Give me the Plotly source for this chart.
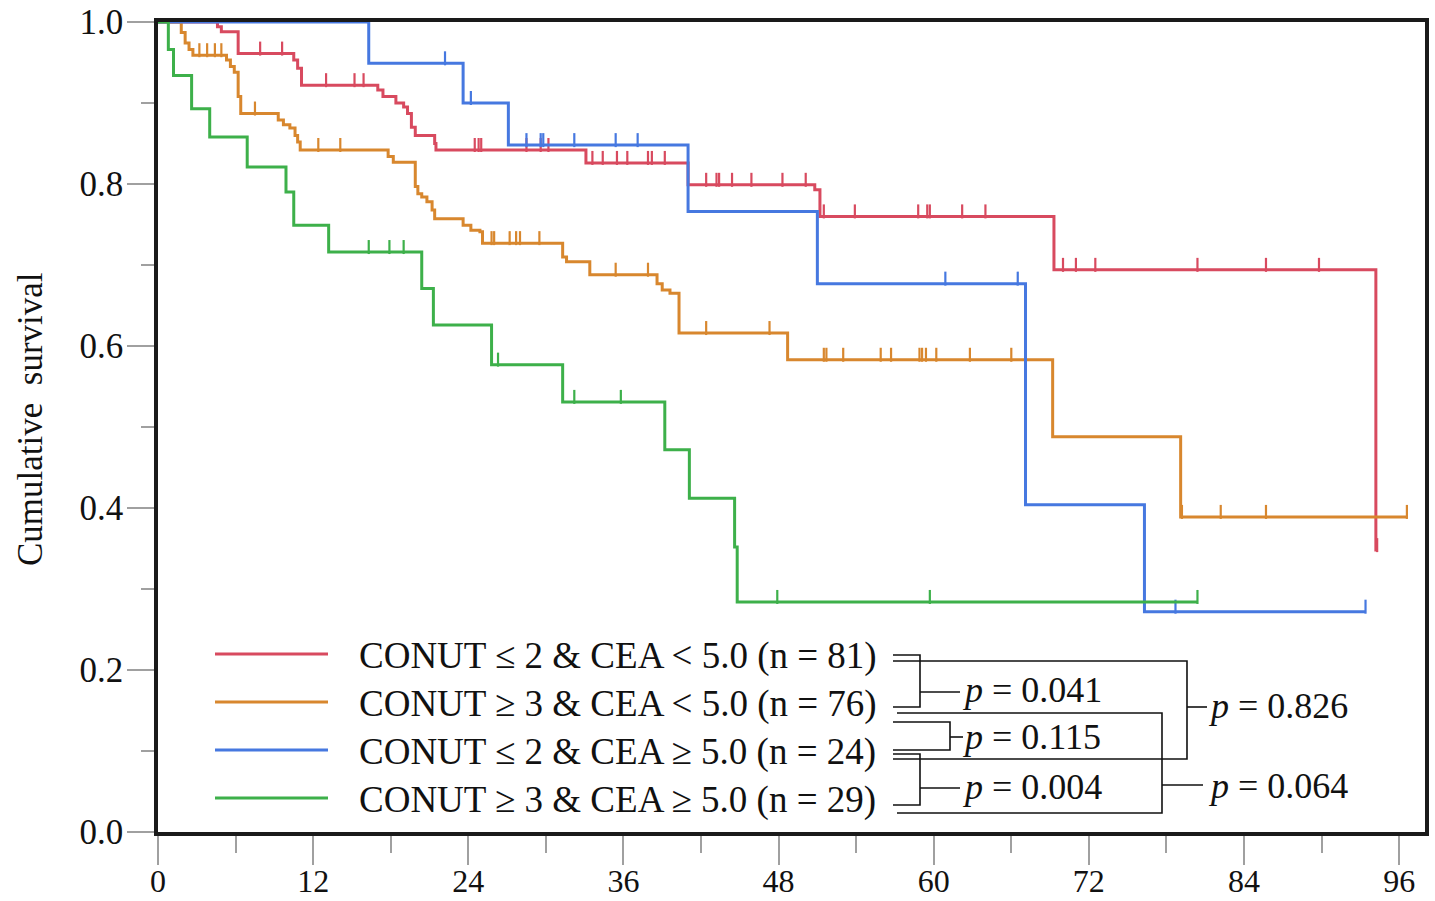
import numpy as np
import plotly.graph_objects as go

# ---------------- data ----------------
x_ticks = [0, 12, 24, 36, 48, 60, 72, 84, 96]
y_ticks = [0.0, 0.2, 0.4, 0.6, 0.8, 1.0]

labels = [
    "CONUT \u2264 2 &amp; CEA &lt; 5.0 (n = 81)",
    "CONUT \u2265 3 &amp; CEA &lt; 5.0 (n = 76)",
    "CONUT \u2264 2 &amp; CEA \u2265 5.0 (n = 24)",
    "CONUT \u2265 3 &amp; CEA \u2265 5.0 (n = 29)",
]
colors = ["#D84A5F", "#D8872E", "#4678E0", "#3DB04A"]

# event times (months) and survival after each step
red_t = [0, 4.6, 4.9, 6.2, 10.5, 10.8, 11.1, 17.0, 17.4, 18.4, 19.0, 19.3, 19.6, 19.9,
         21.4, 21.5, 33.1, 41.0, 50.8, 51.2, 69.3, 94.2]
red_s = [1.0, 0.994, 0.988, 0.961, 0.953, 0.943, 0.922, 0.916, 0.908, 0.900, 0.895, 0.887,
         0.870, 0.860, 0.850, 0.842, 0.826, 0.799, 0.793, 0.760, 0.694, 0.348]
red_cens = [7.9, 9.6, 13.0, 15.2, 15.9, 24.5, 24.8, 25.0, 28.5, 29.6, 30.2, 33.6, 34.4,
            35.5, 36.3, 37.9, 38.2, 39.2, 42.4, 43.2, 43.4, 44.4, 45.9, 48.3, 50.1, 51.5,
            53.9, 58.8, 59.5, 59.7, 62.2, 64.0, 70.0, 71.0, 72.5, 80.4, 85.7, 89.8, 94.3]

orange_t = [0, 1.8, 2.1, 2.4, 2.7, 5.3, 5.6, 5.9, 6.2, 6.4, 9.3, 9.7, 10.2, 10.6, 10.8,
            11.0, 17.8, 18.2, 19.9, 20.1, 20.4, 20.8, 21.2, 21.4, 23.6, 24.2, 24.9, 25.1,
            31.3, 31.6, 33.4, 38.6, 39.0, 39.6, 40.3, 48.7, 69.2, 79.1]
orange_s = [1.0, 0.987, 0.974, 0.966, 0.959, 0.953, 0.945, 0.938, 0.908, 0.887, 0.879,
            0.873, 0.869, 0.860, 0.852, 0.842, 0.834, 0.827, 0.797, 0.788, 0.784, 0.778,
            0.768, 0.757, 0.749, 0.743, 0.741, 0.727, 0.710, 0.704, 0.688, 0.677, 0.669,
            0.665, 0.616, 0.583, 0.488, 0.389]
orange_cens = [3.2, 3.8, 4.4, 4.9, 7.5, 12.4, 14.1, 25.8, 26.0, 27.2, 27.7, 28.0, 29.5,
               35.4, 37.9, 42.4, 47.3, 51.5, 51.7, 53.0, 55.9, 56.7, 58.9, 59.1, 59.4,
               60.2, 62.8, 66.0, 79.2, 82.2, 85.7, 96.6]

blue_t = [0, 16.3, 23.6, 27.1, 41.0, 51.0, 67.1, 76.3]
blue_s = [1.0, 0.949, 0.900, 0.848, 0.766, 0.677, 0.404, 0.272]
blue_cens = [22.2, 24.2, 28.5, 29.6, 29.8, 32.2, 35.4, 37.1, 60.9, 66.5, 78.7, 93.4]

green_t = [0, 0.8, 1.2, 2.6, 4.0, 6.9, 9.9, 10.5, 13.2, 20.4, 21.3, 25.8, 31.3, 39.2,
           41.1, 44.6, 44.8]
green_s = [1.0, 0.966, 0.934, 0.893, 0.858, 0.821, 0.790, 0.749, 0.716, 0.671, 0.626,
           0.577, 0.531, 0.472, 0.412, 0.352, 0.284]
green_cens = [16.3, 17.9, 19.0, 26.3, 32.2, 35.8, 47.9, 59.7, 80.4]

p_pairs = ["0.041", "0.115", "0.004", "0.826", "0.064"]

groups = [
    (red_t, red_s, red_cens),
    (orange_t, orange_s, orange_cens),
    (blue_t, blue_s, blue_cens),
    (green_t, green_s, green_cens),
]

# ---------------- figure ----------------
W, H = 1435, 901
ML, MR, MT, MB = 158, 10, 22, 69
PW, PH = W - ML - MR, H - MT - MB
X0_PAGE, Y0_PAGE = ML, H - MB  # plot-area left / bottom in page pixels
FONT = "Liberation Serif, Times New Roman, serif"


def px(xp):
    return (xp - X0_PAGE) / PW


def py(yp):
    return (Y0_PAGE - yp) / PH


fig = go.Figure()
tick_offset = 5.0 / PH  # lift censor ticks so they sit on top of the line

for (t, s, cens), col, lab in zip(groups, colors, labels):
    end = max(max(cens), t[-1])
    xs = list(t) + [end]
    ys = list(s) + [s[-1]]
    fig.add_trace(go.Scatter(x=xs, y=ys, mode="lines", line=dict(color=col, width=3, shape="hv"),
                             name=lab, showlegend=False, hoverinfo="skip"))
    idx = np.searchsorted(np.array(t), np.array(cens), side="right") - 1
    cy = np.array(s)[idx] + tick_offset
    fig.add_trace(go.Scatter(x=cens, y=cy, mode="markers",
                             marker=dict(symbol="line-ns", size=10, line=dict(color=col, width=2.2)),
                             showlegend=False, hoverinfo="skip"))

# legend drawn inside the plot
row_y = [654, 702, 750, 798]
for lab, col, ry in zip(labels, colors, row_y):
    fig.add_shape(type="line", xref="paper", yref="paper", x0=px(215), x1=px(328),
                  y0=py(ry), y1=py(ry), line=dict(color=col, width=3))
    fig.add_annotation(xref="paper", yref="paper", x=px(357), y=py(ry + 2), text=lab,
                       showarrow=False, xanchor="left", yanchor="middle",
                       font=dict(family=FONT, size=37, color="#111"))

# brackets for the p-values
brackets = [
    ([(893, 655), (920, 655), (920, 707), (893, 707)], [(920, 692), (960, 692)]),
    ([(893, 661), (1187, 661), (1187, 759), (893, 759)], [(1187, 707), (1207, 707)]),
    ([(893, 722), (950, 722), (950, 750), (893, 750)], [(950, 737), (963, 737)]),
    ([(897, 713), (1162, 713), (1162, 813), (897, 813)], [(1162, 785), (1203, 785)]),
    ([(893, 754), (920, 754), (920, 805), (893, 805)], [(920, 788), (960, 788)]),
]
p_pos = [(960, 690), (1206, 706), (960, 737), (1206, 786), (960, 787)]
p_vals = [p_pairs[0], p_pairs[3], p_pairs[1], p_pairs[4], p_pairs[2]]
for (pts, tail), (tx, ty), pv in zip(brackets, p_pos, p_vals):
    path = "M " + " L ".join(f"{px(a):.5f},{py(b):.5f}" for a, b in pts)
    fig.add_shape(type="path", xref="paper", yref="paper", path=path,
                  line=dict(color="#111", width=1.6))
    fig.add_shape(type="line", xref="paper", yref="paper", x0=px(tail[0][0]), x1=px(tail[1][0]),
                  y0=py(tail[0][1]), y1=py(tail[1][1]), line=dict(color="#111", width=1.6))
    fig.add_annotation(xref="paper", yref="paper", x=px(tx), y=py(ty),
                       text=f"<i>p</i> = {pv}", showarrow=False, xanchor="left", yanchor="middle",
                       font=dict(family=FONT, size=36, color="#111"))

# y-axis title
fig.add_annotation(xref="paper", yref="paper", x=px(30), y=py(419), text="Cumulative  survival",
                   textangle=-90, showarrow=False, xanchor="center", yanchor="middle",
                   font=dict(family=FONT, size=35, color="#111"))

fig.update_layout(
    width=W, height=H,
    margin=dict(l=ML, r=MR, t=MT, b=MB, autoexpand=False),
    paper_bgcolor="white", plot_bgcolor="white",
    showlegend=False,
)
fig.update_xaxes(
    range=[0, 98], tickvals=x_ticks, ticktext=[str(v) for v in x_ticks], automargin=False,
    showgrid=False, zeroline=False, showline=True, mirror=True, linecolor="#1a1a1a", linewidth=3.5,
    ticks="outside", ticklen=29, tickwidth=2, tickcolor="#a0a0a0",
    minor=dict(tickvals=[6, 18, 30, 42, 54, 66, 78, 90], ticks="outside", ticklen=17, tickwidth=2,
               tickcolor="#a0a0a0", showgrid=False),
    tickfont=dict(family=FONT, size=32, color="#111"), ticklabelstandoff=-11,
    ticklabeloverflow="allow",
)
fig.update_yaxes(
    range=[0, 1.0], tickvals=y_ticks, ticktext=[f"{v:.1f}" for v in y_ticks], automargin=False,
    showgrid=False, zeroline=False, showline=True, mirror=True, linecolor="#1a1a1a", linewidth=3.5,
    ticks="outside", ticklen=27, tickwidth=2, tickcolor="#a0a0a0",
    minor=dict(tickvals=[0.1, 0.3, 0.5, 0.7, 0.9], ticks="outside", ticklen=13, tickwidth=2,
               tickcolor="#a0a0a0", showgrid=False),
    tickfont=dict(family=FONT, size=35, color="#111"), ticklabelstandoff=-3,
    ticklabeloverflow="allow",
)

# remove the default 8 px page margin so the figure fills the window exactly
fig.write_html("out.html", config={"displayModeBar": False},
               post_script="document.body.style.margin='0';")
